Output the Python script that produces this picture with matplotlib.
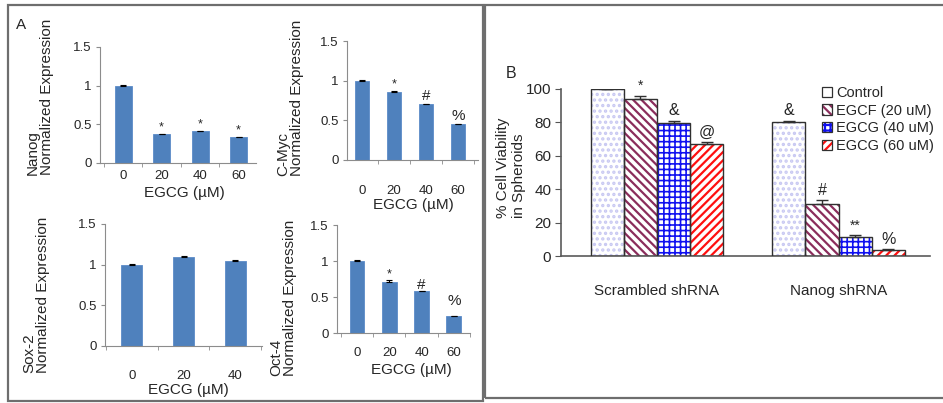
import numpy as np
import matplotlib
matplotlib.use("Agg")
import matplotlib.pyplot as plt
from matplotlib.patches import Rectangle
from matplotlib.legend_handler import HandlerTuple

plt.rcParams['font.family'] = ['Liberation Sans', 'DejaVu Sans']
plt.rcParams['hatch.linewidth'] = 1.6

# ---- panel A data (EGCG doses, normalized expression) ----
doses = ['0', '20', '40', '60']
doses_sox = ['0', '20', '40']
nanog = [1.00, 0.37, 0.41, 0.33]
nanog_err = [0.01, 0.01, 0.01, 0.01]
nanog_marks = ['', '*', '*', '*']
cmyc = [1.00, 0.86, 0.70, 0.45]
cmyc_err = [0.01, 0.01, 0.01, 0.01]
cmyc_marks = ['', '*', '#', '%']
sox2 = [1.00, 1.10, 1.05]
sox2_err = [0.01, 0.01, 0.01]
oct4 = [1.00, 0.71, 0.58, 0.23]
oct4_err = [0.01, 0.02, 0.01, 0.01]
oct4_marks = ['', '*', '#', '%']

# ---- panel B data (% viability in spheroids) ----
groups = ['Scrambled shRNA', 'Nanog shRNA']
treatments = ['Control', 'EGCF (20 uM)', 'EGCG (40 uM)', 'EGCG (60 uM)']
viability = [[100, 80], [94, 31], [79.5, 11.5], [67, 3.5]]
viability_err = [[0, 1], [2, 2.5], [1.5, 1.2], [1, 0.5]]
viability_marks = [['', '&'], ['*', '#'], ['&', '**'], ['@', '%']]

W, H = 943, 403
fig = plt.figure(figsize=(W / 100, H / 100), dpi=100)


def px_axes(x0, y0, x1, y1):
    return fig.add_axes([x0 / W, 1 - y1 / H, (x1 - x0) / W, (y1 - y0) / H])


def fx(x):
    return x / W


def fy(y):
    return 1 - y / H


BLUE = '#4F81BD'
AXC = '#8C8C8C'
TXT = '#262626'


def small_panel(box, vals, errs, labels, marks, xlim, width, pad, ylab, ylab_xy, xlab_xy, lift=None):
    ax = px_axes(*box)
    x = np.arange(len(vals))
    ax.bar(x, vals, width, color=BLUE, edgecolor='#5B8BC8', linewidth=0.6, zorder=2)
    ax.errorbar(x, vals, yerr=[np.zeros(len(vals)), errs], fmt='none',
                ecolor='black', elinewidth=0.8, capsize=2.5, capthick=0.8, zorder=3)
    ax.set_xlim(*xlim)
    ax.set_ylim(0, 1.5)
    ax.set_yticks([0, 0.5, 1, 1.5])
    ax.set_yticklabels(['0', '0.5', '1', '1.5'])
    ax.set_xticks(x)
    ax.set_xticklabels(labels)
    bounds = [b for b in np.arange(-0.5, len(vals)) if xlim[0] <= b <= xlim[1]]
    ax.set_xticks(bounds, minor=True)
    ax.tick_params(axis='x', which='major', length=0, pad=pad, labelsize=9.5, colors=TXT)
    ax.tick_params(axis='x', which='minor', length=3, color=AXC, direction='out')
    ax.tick_params(axis='y', length=3, color=AXC, labelsize=9.5, labelcolor=TXT, pad=3)
    for s in ['top', 'right']:
        ax.spines[s].set_visible(False)
    for s in ['left', 'bottom']:
        ax.spines[s].set_color(AXC)
        ax.spines[s].set_linewidth(0.8)
    ax.set_facecolor('none')
    if marks:
        for i, m in enumerate(marks):
            if m:
                extra = lift[i] if lift else 0
                ax.text(x[i], vals[i] + errs[i] + 0.005 + extra, m, ha='center', va='bottom',
                        fontsize=9 if m == '*' else 11, color=TXT)
    fig.text(fx(ylab_xy[0]), fy(ylab_xy[1]), ylab, rotation=90, ha='center', va='bottom',
             multialignment='left', fontsize=11, color=TXT, linespacing=1.0)
    fig.text(fx(xlab_xy[0]), fy(xlab_xy[1]), 'EGCG (\u00b5M)', ha='center', va='center',
             fontsize=11, color=TXT)
    return ax


small_panel((100, 47, 256, 163), nanog, nanog_err, doses, nanog_marks, (-0.6, 3.45), 0.44, 5,
            'Nanog\nNormalized Expression', (40, 175), (184, 193))
small_panel((347, 41, 478, 160), cmyc, cmyc_err, doses, cmyc_marks, (-0.47, 3.63), 0.42, 18,
            'C-Myc\nNormalized Expression', (290, 176), (413, 205))
small_panel((105, 224, 262, 346), sox2, sox2_err, doses_sox, None, (-0.52, 2.52), 0.41, 17,
            'Sox-2\nNormalized Expression', (36, 373), (188, 390))
small_panel((337, 225, 470, 333), oct4, oct4_err, doses, oct4_marks, (-0.62, 3.5), 0.46, 10,
            'Oct-4\nNormalized Expression', (283, 376), (411, 370), lift=[0, 0, -0.03, 0.1])

# ---- panel B ----
axb = px_axes(561, 89, 930, 256)
xg = np.arange(len(groups))
bw = 0.182
styles = [
    dict(hatch='...', hc='#C8C8F2', lw=1.6),
    dict(hatch='\\\\\\\\', hc='#8B2D5C', lw=1.6),
    dict(hatch='+++', hc='#1010F0', lw=1.2),
    dict(hatch='////', hc='#FF1010', lw=1.6),
]
handles = []
for k, (vals, errs, st) in enumerate(zip(viability, viability_err, styles)):
    pos = xg + (k - 1.5) * bw
    plt.rcParams['hatch.linewidth'] = st['lw']
    axb.bar(pos, vals, bw, color='white', edgecolor=st['hc'], hatch=st['hatch'],
            linewidth=0, zorder=2)
    axb.bar(pos, vals, bw, fill=False, edgecolor='#303030', linewidth=1.0, zorder=3)
    axb.errorbar(pos, vals, yerr=[np.zeros(len(vals)), errs], fmt='none', ecolor='#303030',
                 elinewidth=1.0, capsize=4, capthick=1.0, zorder=4)
    for i, m in enumerate(viability_marks[k]):
        if m:
            axb.text(pos[i], vals[i] + errs[i] + 1.5, m, ha='center', va='bottom',
                     fontsize=10 if '*' in m else 11.5, color=TXT, clip_on=False)
    h = Rectangle((0, 0), 1, 1, facecolor='white', edgecolor=st['hc'],
                  hatch=st['hatch'] if k else None, linewidth=0)
    handles.append(h)

axb.set_xlim(-0.529, 1.504)
axb.set_ylim(0, 100)
axb.set_yticks(range(0, 101, 20))
axb.set_xticks(xg)
axb.set_xticklabels(groups)
axb.tick_params(axis='x', length=0, pad=20, labelsize=11, colors=TXT)
axb.tick_params(axis='y', length=4, color='#555555', labelsize=11, labelcolor=TXT, pad=3)
for s in ['top', 'right']:
    axb.spines[s].set_visible(False)
for s in ['left', 'bottom']:
    axb.spines[s].set_color('#5a5a5a')
    axb.spines[s].set_linewidth(1.2)
axb.set_facecolor('none')

# legend: hatch swatch with dark outline
leg_handles = []
for h in handles:
    leg_handles.append((h, Rectangle((0, 0), 1, 1, fill=False, edgecolor='#303030', linewidth=0.9)))
leg = fig.legend(leg_handles, treatments, loc='upper left', bbox_to_anchor=(fx(822), fy(86)),
                 frameon=False, fontsize=10.5, handlelength=0.7, handleheight=0.7,
                 handletextpad=0.25, labelspacing=0.25, borderpad=0, borderaxespad=0,
                 handler_map={tuple: HandlerTuple(ndivide=1)})
for t in leg.get_texts():
    t.set_color(TXT)

fig.text(fx(511), fy(218), '% Cell Viability\nin Spheroids', rotation=90, ha='center',
         va='bottom', multialignment='left', fontsize=11, color=TXT, linespacing=1.25)

# panel letters
fig.text(fx(21), fy(25), 'A', ha='center', va='center', fontsize=11, color=TXT)
fig.text(fx(511), fy(73), 'B', ha='center', va='center', fontsize=11.5, color=TXT)

# panel frames
frame_kw = dict(fill=False, edgecolor='#6e6e6e', linewidth=1.6, transform=fig.transFigure)
fig.patches.append(Rectangle((fx(8), fy(401)), fx(483 - 8), (401 - 5) / H, **frame_kw))
fig.patches.append(Rectangle((fx(485), fy(398)), fx(470), (398 - 5) / H, **frame_kw))

fig.savefig('out.png', dpi=100)
